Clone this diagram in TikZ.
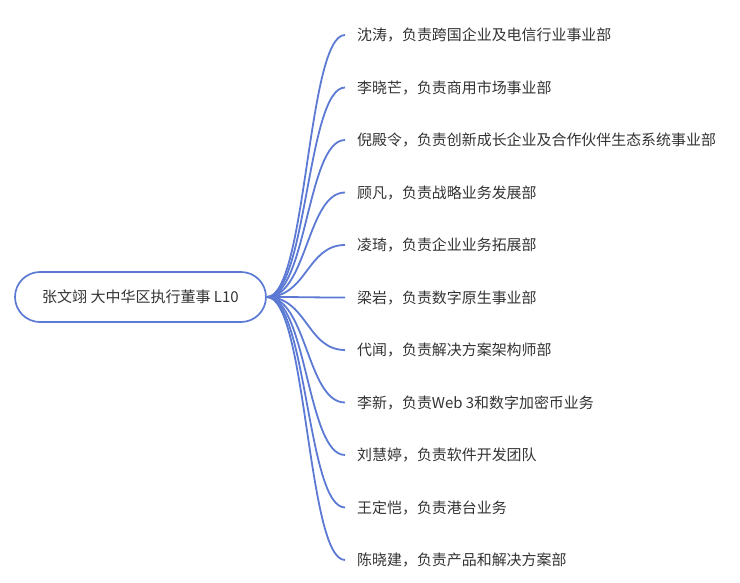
\documentclass[tikz,border=0pt]{standalone}
\usepackage{fontspec}
\setmainfont{Noto Sans CJK SC}
\usetikzlibrary{positioning}
\definecolor{mapblue}{RGB}{92,122,212}
\definecolor{mapgray}{RGB}{51,51,51}
\tikzset{boss/.style={rectangle, draw=mapblue, line width=1.7pt, rounded corners=25pt,
    minimum width=251pt, minimum height=50pt, text=mapgray, font=\fontsize{15pt}{18pt}\selectfont},
  leaf/.style={anchor=west, inner xsep=12pt, text=mapgray, font=\fontsize{14.95pt}{18pt}\selectfont},
  branch/.style={draw=mapblue, line width=1.8pt,
    to path={.. controls +(40pt,0) and +(-38pt,0) .. (\tikztotarget)}}}

\begin{document}
\begin{tikzpicture}[x=1pt,y=-1pt]
  \useasboundingbox (0,0) rectangle (740,583);

  \node[boss]  (boss) at (140.5,297) {张文翊 大中华区执行董事 L10};

  \node[leaf] (l1)  at (345,35)    {沈涛，负责跨国企业及电信行业事业部};
  \node[leaf] (l2)  at (345,87.5)  {李晓芒，负责商用市场事业部};
  \node[leaf] (l3)  at (345,140)   {倪殿令，负责创新成长企业及合作伙伴生态系统事业部};
  \node[leaf] (l4)  at (345,192.5) {顾凡，负责战略业务发展部};
  \node[leaf] (l5)  at (345,245)   {凌琦，负责企业业务拓展部};
  \node[leaf] (l6)  at (345,297.5) {梁岩，负责数字原生事业部};
  \node[leaf] (l7)  at (345,350)   {代闻，负责解决方案架构师部};
  \node[leaf] (l8)  at (345,402.5) {李新，负责Web 3和数字加密币业务};
  \node[leaf] (l9)  at (345,455)   {刘慧婷，负责软件开发团队};
  \node[leaf] (l10) at (345,507.5) {王定恺，负责港台业务};
  \node[leaf] (l11) at (345,560)   {陈晓建，负责产品和解决方案部};

  \path (boss.east) edge[branch] (l1.west)
        (boss.east) edge[branch] (l2.west)
        (boss.east) edge[branch] (l3.west)
        (boss.east) edge[branch] (l4.west)
        (boss.east) edge[branch] (l5.west)
        (boss.east) edge[branch] (l6.west)
        (boss.east) edge[branch] (l7.west)
        (boss.east) edge[branch] (l8.west)
        (boss.east) edge[branch] (l9.west)
        (boss.east) edge[branch] (l10.west)
        (boss.east) edge[branch] (l11.west);
\end{tikzpicture}
\end{document}
